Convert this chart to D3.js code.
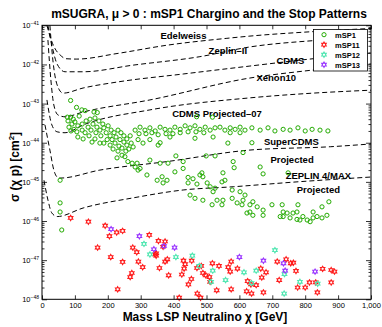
<!DOCTYPE html>
<html>
<head>
<meta charset="UTF-8">
<title>mSUGRA mSP1 Chargino and Stop Patterns</title>
<script src="https://cdn.jsdelivr.net/npm/d3@7"></script>
<style>
	body { margin: 0; background: #fff; }
	svg text { font-family: "Liberation Sans", Arial, sans-serif; }
</style>
</head>
<body>
<svg id="chart" width="382" height="327"></svg>
<script>
// tick values
var massTicks = [0, 100, 200, 300, 400, 500, 600, 700, 800, 900, 1000];
var decadeExps = [-48, -47, -46, -45, -44, -43, -42, -41];

// series: [mass GeV, sigma cm^2]
var mSP1 = [
	[87,1.2e-43],[105,8.0e-44],[121,6.9e-44],[131,6.6e-44],[113,4.8e-44],[158,6.1e-44],[168,5.9e-44],
	[77,4.5e-44],[87,4.5e-44],[95,4.0e-44],
	[79,3.6e-44],[91,3.0e-44],[100,3.4e-44],[82,2.5e-44],[97,2.2e-44],[109,2.7e-44],[122,3.0e-44],
	[134,3.6e-44],[146,4.0e-44],[161,4.3e-44],[173,3.6e-44],[155,3.0e-44],[140,2.5e-44],[122,2.1e-44],
	[106,1.9e-44],[88,2.0e-44],[131,1.8e-44],[149,2.1e-44],[167,2.5e-44],[185,3.0e-44],[176,2.1e-44],
	[164,1.8e-44],[188,2.4e-44],[201,2.7e-44],[210,2.1e-44],[195,1.8e-44],[179,1.5e-44],[207,1.5e-44],
	[219,1.8e-44],[231,2.1e-44],[225,1.4e-44],[240,1.8e-44],[249,1.5e-44],[237,1.2e-44],[213,1.2e-44],
	[198,1.2e-44],[188,9.8e-45],[207,8.7e-45],[222,9.8e-45],[234,8.2e-45],[249,1.04e-44],[258,1.25e-44],
	[268,1.5e-44],[216,6.9e-45],[231,6.1e-45],[243,7.3e-45],[258,8.7e-45],[271,9.8e-45],[255,6.1e-45],
	[243,4.8e-45],[228,4.1e-45],[264,6.9e-45],[277,7.8e-45],[109,1.4e-44],[125,1.25e-44],[143,1.5e-44],
	[161,1.25e-44],[176,9.8e-45],[152,1.04e-44],
	[283,2.1e-44],[298,2.5e-44],[313,2.1e-44],[328,2.4e-44],[344,2.0e-44],[359,2.5e-44],[374,2.2e-44],
	[389,2.1e-44],[404,2.5e-44],[420,2.2e-44],[435,2.7e-44],[450,2.4e-44],[465,2.7e-44],[480,2.2e-44],
	[496,2.5e-44],[511,2.1e-44],[526,2.4e-44],[541,2.5e-44],[556,2.1e-44],[572,2.4e-44],[587,2.2e-44],
	[602,2.5e-44],[617,2.1e-44],[638,2.4e-44],[663,2.1e-44],[687,2.4e-44],[708,2.0e-44],[733,2.2e-44],
	[754,2.1e-44],[778,2.4e-44],[800,2.0e-44],[821,2.2e-44],[845,2.1e-44],[869,2.0e-44],
	[295,1.7e-44],[316,1.7e-44],[334,1.8e-44],[353,1.6e-44],[377,1.7e-44],[398,1.7e-44],[420,1.8e-44],
	[444,1.9e-44],[468,1.9e-44],[492,1.8e-44],[520,1.4e-44],[572,1.8e-44],[602,1.8e-44],[328,1.2e-44],
	[353,8.7e-45],[470,4.6e-44],[518,4.5e-44],[359,1.0e-44],[465,1.3e-44],[565,9.8e-45],[292,1.2e-44],
	[307,9.8e-45],[389,1.4e-44],
	[252,4.4e-45],[261,3.3e-45],[274,3.0e-45],[289,3.0e-45],[283,2.4e-45],[292,2.0e-45],[298,2.2e-45],
	[328,3.6e-45],[359,3.0e-45],[383,3.0e-45],[407,4.6e-45],[429,3.3e-45],[499,4.6e-45],[526,4.6e-45],
	[611,5.6e-45],[638,1.0e-44],[581,3.3e-45],[584,2.3e-45],[404,1.8e-45],[429,2.2e-45],[319,1.5e-45],
	[350,1.1e-45],[365,1.35e-45],[368,9.4e-46],[380,1.1e-45],[444,1.3e-45],[459,1.2e-45],[480,1.5e-45],
	[486,1.7e-45],[489,1.35e-45],[444,9.4e-46],[471,8.8e-46],[502,9.4e-46],[511,7.5e-46],[550,1.7e-45],
	[556,1.1e-45],[547,1.0e-45],[526,6.9e-46],[520,5.6e-46],[450,4.6e-46],[465,3.8e-46],[489,3.4e-46],
	[532,3.4e-46],[550,3.4e-46],[517,2.6e-46],[547,2.6e-46],[578,3.8e-46],[578,6.2e-46],[602,5.6e-46],
	[617,4.6e-46],[663,2.4e-45],[672,1.6e-45],[748,1.7e-45],[611,3.4e-46],[593,2.9e-46],[608,2.6e-46],
	[632,2.6e-46],[641,3.1e-46],[654,2.3e-46],[632,1.7e-46],[623,1.6e-46],[641,1.4e-46],[672,1.9e-46],
	[672,1.4e-46],[699,2.6e-46],[730,2.6e-46],[733,1.7e-46],[745,1.6e-46],[733,1.3e-46],[763,1.6e-46],
	[778,2.6e-46],[775,1.7e-46],[754,1.2e-46],[775,1.1e-46],[793,1.3e-46],[724,1.3e-46],[806,1.06e-46],
	[824,1.7e-46],[836,1.3e-46],[851,2.3e-46],[866,1.4e-46],[872,3.1e-46],[851,1.2e-46],[824,1.2e-46],
	[815,9.6e-47],[784,1.06e-46],
	[55,1.1e-45],[55,2.9e-46],[55,1.7e-46],[60,5.9e-47]
];
var mSP11 = [
	[87,1.2e-46],[141,9.6e-47],[192,7.6e-47],[205,4.1e-47],[227,5.1e-47],[245,5.6e-47],[169,2.1e-47],
	[209,1.2e-47],[245,9.0e-48],[276,2.1e-47],[288,1.6e-47],[293,9.2e-48],[306,6.6e-48],[273,4.7e-48],
	[268,3.7e-48],[230,1.8e-48],[326,4.4e-47],[344,1.4e-47],[347,1.3e-47],[354,3.1e-47],[347,1.5e-47],
	[368,2.2e-47],[374,9.2e-48],[381,1.05e-47],[357,6.3e-48],[385,4.1e-48],[417,1.1e-48],[430,9.7e-48],
	[435,7.9e-48],[432,6.1e-48],[425,4.3e-48],[455,9.7e-48],[454,3.3e-48],[445,2.4e-48],[471,6.3e-48],
	[484,7.1e-48],[489,4.7e-48],[498,4.1e-48],[509,3.7e-48],[511,2.8e-48],[472,1.4e-48],[482,1.1e-48],
	[518,8.3e-48],[538,7.1e-48],[531,1.7e-48],[566,6.6e-48],[572,5.1e-48],[575,9.2e-48],[594,6.1e-48],
	[575,1.8e-48],[625,2.9e-48],[635,2.4e-48],[622,1.6e-48],[637,1.4e-48],[651,2.3e-48],[665,6.1e-48],
	[681,4.9e-48],[668,3.6e-48],[673,1.5e-48],[715,9.2e-48],[742,1.05e-47],[764,8.6e-48],[721,3.1e-48],
	[772,5.3e-48],[777,2.0e-48],[800,2.0e-48],[813,2.7e-48],[832,2.7e-48],[837,1.5e-48],[879,5.6e-48],
	[889,5.1e-48],[879,2.7e-48],[853,6.0e-48],[756,8.3e-48],[374,3.0e-47]
];
var mSP12 = [
	[310,2.6e-47],[328,1.4e-47],[407,1.2e-47],[457,1.3e-47],[478,7.1e-48],[519,5.4e-48],[514,2.8e-48],
	[558,3.1e-48],[614,4.9e-48],[637,2.6e-48],[651,5.4e-48],[708,1.8e-47],[737,4.4e-48],[736,1.4e-48],
	[784,2.8e-48],[838,2.5e-48]
];
var mSP13 = [
	[210,6.2e-47],[296,4.1e-47],[340,1.9e-47],[371,2.3e-47],[403,2.1e-47],[600,1.2e-47],[673,9.7e-48],
	[734,8.3e-48],[739,5.4e-48],[830,5.1e-48]
];

// exclusion / projected limit curves
var edelweiss = [[15,1e-41],[24,5.3e-42],[40,2.5e-42],[55,1.75e-42],[73,1.4e-42],[106,1.37e-42],
	[228,1.9e-42],[380,3.1e-42],[562,4.65e-42],[632,5.3e-42],[824,6.9e-42],[1000,8.3e-42]];
var zeplin2 = [[18,1e-41],[30,3.1e-42],[46,1.02e-42],[70,6.5e-43],[125,6.5e-43],[277,9.6e-43],
	[480,1.58e-42],[632,2.8e-42],[824,4.05e-42],[1000,4.9e-42]];
var cdms = [[24,1e-41],[33,1.3e-42],[46,3.0e-43],[64,1.85e-43],[125,2.5e-43],[228,3.55e-43],
	[429,5.7e-43],[632,9.1e-43],[824,1.4e-42],[1000,1.96e-42]];
var xenon10 = [[18,4.2e-42],[27,4.0e-43],[36,9.2e-44],[49,5.1e-44],[70,4.6e-44],[125,6.1e-44],
	[328,1.24e-43],[632,4.5e-43],[824,7.2e-43],[1000,1.03e-42]];
var cdms07 = [[15,1.24e-43],[30,2.85e-44],[46,1.9e-44],[70,1.8e-44],[125,2.85e-44],[328,6.9e-44],
	[632,1.4e-43],[824,1.85e-43],[1000,2.2e-43]];
var superCdms = [[9,2.85e-44],[24,6.5e-45],[36,2.0e-45],[46,1.33e-45],[55,1.25e-45],[176,2.0e-45],
	[380,3.3e-45],[632,6.5e-45],[876,7.9e-45],[1000,9.3e-45]];
var zeplinMax = [[6,1.1e-45],[18,3.45e-46],[30,1.6e-46],[46,1.3e-46],[125,2.15e-46],[277,3.9e-46],
	[429,6.2e-46],[581,7.5e-46],[775,1.0e-45],[1000,1.33e-45]];
var curves = [edelweiss, zeplin2, cdms, xenon10, cdms07, superCdms, zeplinMax];

var curveLabels = [
	{text: "Edelweiss", m: 430, s: 4.6e-42},
	{text: "Zeplin\u2013II", m: 565, s: 1.9e-42},
	{text: "CDMS", m: 755, s: 1.05e-42},
	{text: "Xenon10", m: 712, s: 3.7e-43},
	{text: "CDMS Projected\u201307", m: 532, s: 4.6e-44},
	{text: "SuperCDMS", m: 758, s: 8.5e-45},
	{text: "Projected", m: 760, s: 3.0e-45},
	{text: "ZEPLIN 4/MAX", m: 840, s: 1.2e-45},
	{text: "Projected", m: 840, s: 5.2e-46}
];

var seriesNames = ["mSP1", "mSP11", "mSP12", "mSP13"];
var seriesColors = ["#22aa00", "#ff1a1a", "#4de6b0", "#9933ff"];

var svg = d3.select("#chart");
var x = d3.scaleLinear().domain([0, 1000]).range([42, 371]);
var y = d3.scaleLog().domain([1e-48, 1e-41]).range([299.3, 25.3]);

// hexagram marker
var hexagram = {
	draw: function (ctx, size) {
		var r = Math.sqrt(size / 2.2), ri = r / Math.sqrt(3);
		for (var i = 0; i < 12; i++) {
			var a = Math.PI / 6 * i - Math.PI / 2;
			var rr = i % 2 ? ri : r;
			if (i === 0) ctx.moveTo(rr * Math.cos(a), rr * Math.sin(a));
			else ctx.lineTo(rr * Math.cos(a), rr * Math.sin(a));
		}
		ctx.closePath();
	}
};
var starSize = 15;

// curves
var line = d3.line().x(function (d) { return x(d[0]); }).y(function (d) { return y(d[1]); })
	.curve(d3.curveMonotoneX);
svg.append("g").selectAll("path").data(curves).enter().append("path")
	.attr("d", line).attr("fill", "none").attr("stroke", "#000")
	.attr("stroke-width", 1).attr("stroke-dasharray", "5,3");

svg.append("g").selectAll("text").data(curveLabels).enter().append("text")
	.attr("x", function (d) { return x(d.m); }).attr("y", function (d) { return y(d.s); })
	.attr("text-anchor", "middle").attr("font-size", 9.5).attr("font-weight", "bold")
	.text(function (d) { return d.text; });

// points
var g = svg.append("g");
g.selectAll("circle").data(mSP1).enter().append("circle")
	.attr("cx", function (d) { return x(d[0]); }).attr("cy", function (d) { return y(d[1]); })
	.attr("r", 2.1).attr("fill", "none").attr("stroke", seriesColors[0]).attr("stroke-width", 1);
[mSP11, mSP12, mSP13].forEach(function (s, i) {
	g.append("g").selectAll("path").data(s).enter().append("path")
		.attr("transform", function (d) { return "translate(" + x(d[0]) + "," + y(d[1]) + ")"; })
		.attr("d", d3.symbol().type(hexagram).size(starSize))
		.attr("fill", "none").attr("stroke", seriesColors[i + 1]).attr("stroke-width", 1.1);
});

// axes
var minors = [];
decadeExps.slice(0, -1).forEach(function (e) {
	for (var k = 2; k <= 9; k++) minors.push(k * Math.pow(10, e));
});
var decades = decadeExps.map(function (e) { return Math.pow(10, e); });

function styleAxis(sel) {
	sel.select(".domain").remove();
	sel.selectAll("line").attr("stroke", "#000").attr("stroke-width", 0.8);
	sel.selectAll("text").attr("font-size", 7.5).attr("fill", "#000")
		.attr("font-family", "'Liberation Sans', Arial, sans-serif");
}
svg.append("g").attr("transform", "translate(0,299.3)")
	.call(d3.axisBottom(x).tickValues(massTicks).tickSizeInner(-4).tickSizeOuter(0).tickPadding(3))
	.call(styleAxis);
svg.append("g").attr("transform", "translate(0,25.3)")
	.call(d3.axisTop(x).tickValues(massTicks).tickSizeInner(-4).tickSizeOuter(0).tickFormat(""))
	.call(styleAxis);
[[d3.axisLeft, 42], [d3.axisRight, 371]].forEach(function (a) {
	svg.append("g").attr("transform", "translate(" + a[1] + ",0)")
		.call(a[0](y).tickValues(decades).tickSizeInner(-5).tickSizeOuter(0).tickFormat(""))
		.call(styleAxis);
	svg.append("g").attr("transform", "translate(" + a[1] + ",0)")
		.call(a[0](y).tickValues(minors).tickSizeInner(-2.5).tickSizeOuter(0).tickFormat(""))
		.call(styleAxis);
});
var ylab = svg.append("g").selectAll("text").data(decadeExps).enter().append("text")
	.attr("x", 39).attr("y", function (d) { return y(Math.pow(10, d)) + 3; })
	.attr("text-anchor", "end").attr("font-size", 7.5);
ylab.append("tspan").text("10");
ylab.append("tspan").attr("font-size", 5).attr("dy", -3.5).text(function (d) { return "\u2212" + (-d); });

svg.append("rect").attr("x", 42).attr("y", 25.3).attr("width", 329).attr("height", 274)
	.attr("fill", "none").attr("stroke", "#000").attr("stroke-width", 1);

// legend
var lg = svg.append("g");
lg.append("rect").attr("x", 313.5).attr("y", 29.5).attr("width", 54).attr("height", 41.5)
	.attr("fill", "#fff").attr("stroke", "#000").attr("stroke-width", 0.8);
seriesNames.forEach(function (n, i) {
	var yy = 34.7 + i * 10;
	if (i === 0) lg.append("circle").attr("cx", 324).attr("cy", yy).attr("r", 2.1)
		.attr("fill", "none").attr("stroke", seriesColors[0]);
	else lg.append("path").attr("transform", "translate(324," + yy + ")")
		.attr("d", d3.symbol().type(hexagram).size(starSize)).attr("fill", "none")
		.attr("stroke", seriesColors[i]).attr("stroke-width", 1.1);
	lg.append("text").attr("x", 335).attr("y", yy + 3).attr("font-size", 7.5)
		.attr("font-weight", "bold").text(n);
});

// titles
svg.append("text").attr("x", 209).attr("y", 18).attr("text-anchor", "middle")
	.attr("font-size", 12).attr("font-weight", "bold")
	.text("mSUGRA, \u03bc > 0 : mSP1 Chargino and the Stop Patterns");
svg.append("text").attr("x", 205).attr("y", 321).attr("text-anchor", "middle")
	.attr("font-size", 12).attr("font-weight", "bold")
	.text("Mass LSP Neutralino \u03c7  [GeV]");
var yt = svg.append("text").attr("transform", "translate(19,167) rotate(-90)")
	.attr("text-anchor", "middle").attr("font-size", 12).attr("font-weight", "bold");
yt.append("tspan").text("\u03c3 (\u03c7 p) [cm");
yt.append("tspan").attr("font-size", 8).attr("dy", -5).text("2");
yt.append("tspan").attr("dy", 5).text("]");
</script>
</body>
</html>
